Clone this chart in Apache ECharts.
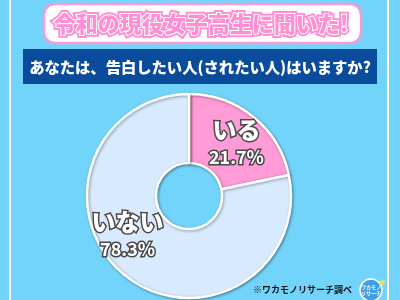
<!DOCTYPE html>
<html><head><meta charset="utf-8">
<script src="https://cdn.jsdelivr.net/npm/echarts@6/dist/echarts.min.js"></script>
<style>html,body{margin:0;padding:0;background:#73D4FB;}#c{width:400px;height:300px;}</style>
</head><body><div id="c"></div>
<script>
const categories = ['いる', 'いない'];
const values = [21.7, 78.3];
const sliceColors = ['#FF9BD6', '#D7EAFE'];
const titleText = '令和の現役女子高生に聞いた!';
const questionText = 'あなたは、告白したい人(されたい人)はいますか?';
const sourceText = '※ワカモノリサーチ調べ';
const labelShift = [[3, 2], [-17, -16]];

const FONT = '"Noto Sans CJK JP", "Noto Sans", sans-serif';
const chart = echarts.init(document.getElementById('c'), null, {renderer: 'canvas'});
chart.setOption({
  backgroundColor: '#73D4FB',
  animation: false,
  graphic: [
    {type: 'rect', shape: {x: 10, y: -5, width: 378, height: 320}, style: {fill: 'none', stroke: '#fff', lineWidth: 2}, z: 0},
    {type: 'rect', shape: {x: 44, y: 4, width: 317, height: 39, r: 11}, style: {fill: '#fff', stroke: '#F99AD4', lineWidth: 2.5}, z: 1},
    {type: 'text', x: 201, y: 24, z: 2, style: {text: titleText, font: '900 22px ' + FONT, fill: '#FF8ED2', stroke: '#FF8ED2', lineWidth: 6, lineJoin: 'round', align: 'center', verticalAlign: 'middle'}},
    {type: 'text', x: 201, y: 24, z: 3, style: {text: titleText, font: '900 22px ' + FONT, fill: '#FF8ED2', stroke: '#fff', lineWidth: 2, lineJoin: 'round', align: 'center', verticalAlign: 'middle'}},
    {type: 'rect', shape: {x: 23, y: 49, width: 354, height: 35}, style: {fill: '#0A4C9B'}, z: 1},
    {type: 'text', x: 200, y: 67, z: 2, style: {text: questionText, font: '900 15.3px ' + FONT, fill: '#fff', align: 'center', verticalAlign: 'middle'}},
    {type: 'text', x: 352, y: 290, z: 2, style: {text: sourceText, font: 'bold 9px ' + FONT, fill: '#111', align: 'right', verticalAlign: 'middle'}},
    {type: 'circle', shape: {cx: 371, cy: 290, r: 11}, style: {fill: '#3D9FE6', stroke: '#fff', lineWidth: 1.5}, z: 2},
    {type: 'text', x: 371, y: 290, z: 3, style: {text: 'ワカモノ\nリサーチ', font: 'bold 5px ' + FONT, fill: '#fff', align: 'center', verticalAlign: 'middle', lineHeight: 6}},
    {type: 'polygon', shape: {points: [[381,279],[383,281],[386,280],[384,283],[385,286],[382,284],[379,286],[380,283],[378,281],[381,281]]}, style: {fill: '#F5E23A'}, z: 3}
  ],
  series: [{
    type: 'pie',
    center: [189, 196],
    radius: [33, 102],
    startAngle: 90,
    clockwise: true,
    silent: true,
    itemStyle: {borderColor: '#fff', borderWidth: 2.5, shadowColor: 'rgba(0,0,0,0.35)', shadowBlur: 3, shadowOffsetX: 1, shadowOffsetY: 1},
    label: {
      show: true,
      position: 'inside',
      formatter: p => '{n|' + p.name + '}\n{v|' + p.value.toFixed(1) + '%}',
      rich: {
        n: {fontFamily: FONT, fontWeight: 900, fontSize: 24, color: '#fff', textBorderColor: '#4a4a4a', textBorderWidth: 3, lineHeight: 28, align: 'center'},
        v: {fontFamily: FONT, fontWeight: 'bold', fontSize: 18, color: '#fff', textBorderColor: '#4a4a4a', textBorderWidth: 3, lineHeight: 26, align: 'center'}
      }
    },
    labelLayout: p => ({dx: labelShift[p.dataIndex][0], dy: labelShift[p.dataIndex][1]}),
    labelLine: {show: false},
    data: categories.map((c, i) => ({name: c, value: values[i], itemStyle: {color: sliceColors[i]}}))
  }]
});
</script></body></html>
